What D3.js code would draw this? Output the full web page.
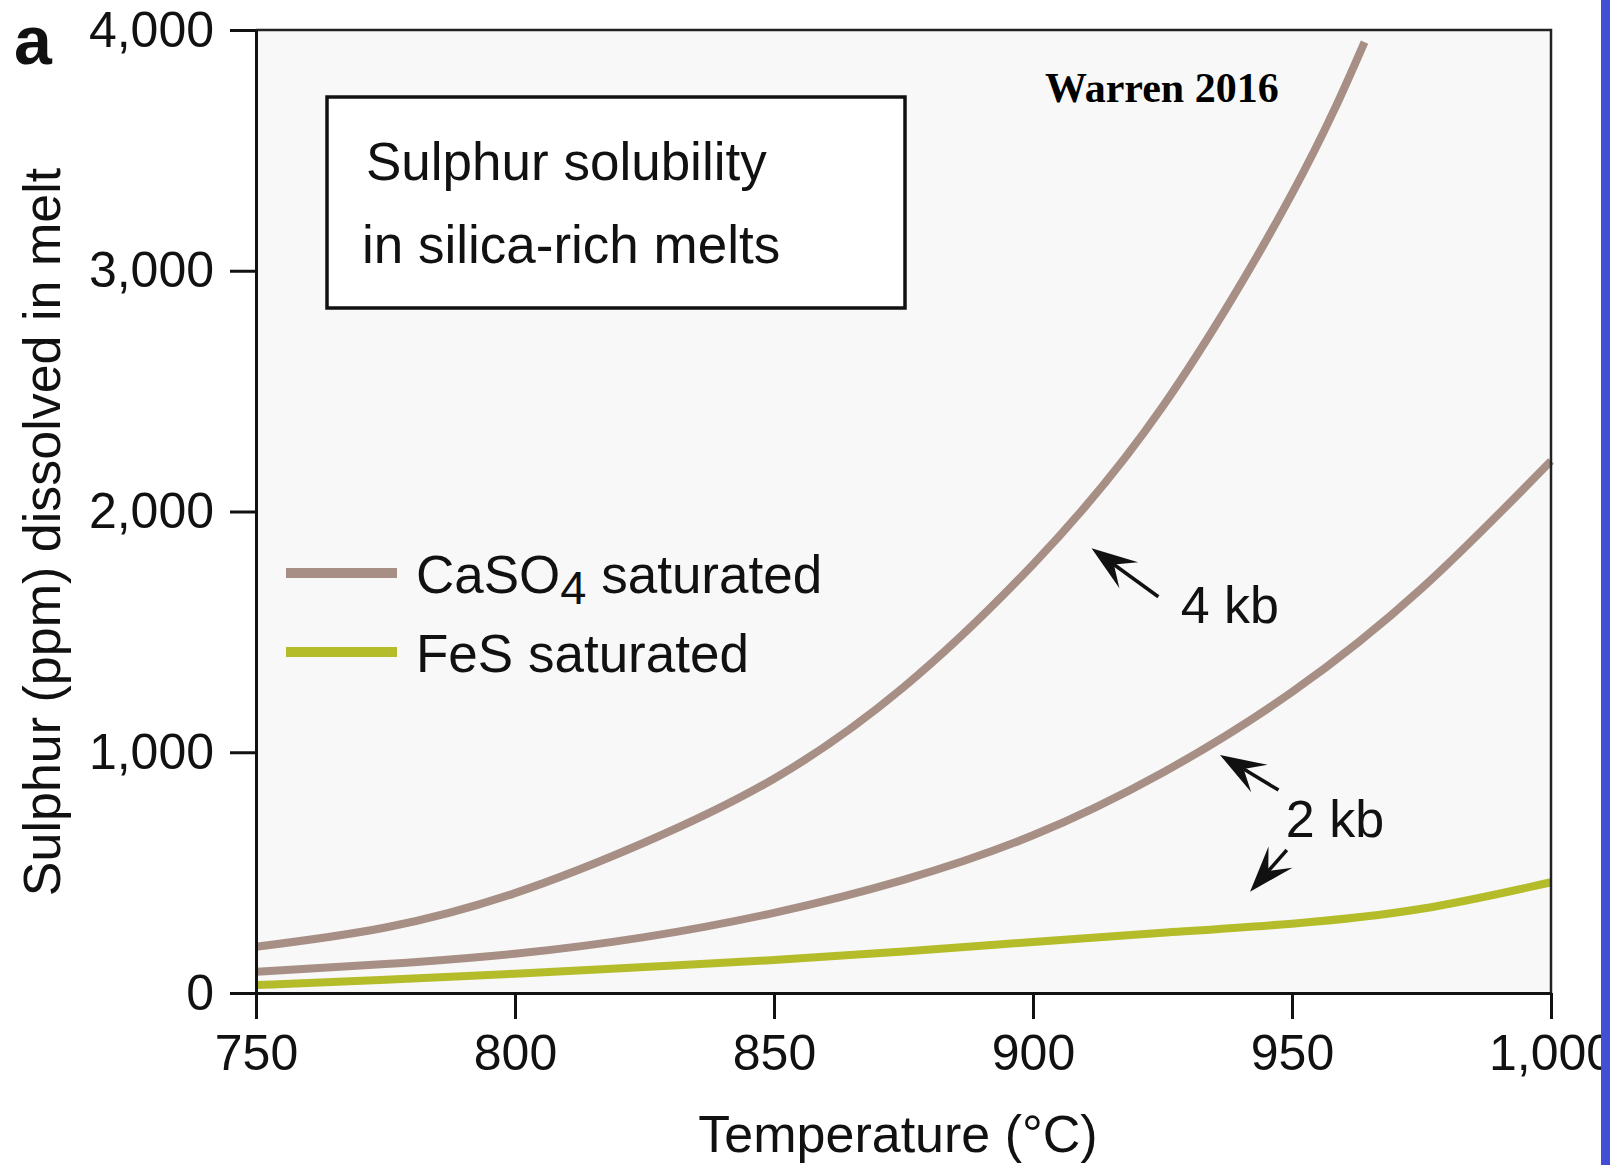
<!DOCTYPE html>
<html lang="en">
<head>
    <meta charset="UTF-8">
    <title>Sulphur solubility</title>
    <script src="https://cdn.jsdelivr.net/npm/d3@7"></script>
    <style type="text/css">
        body { margin: 0; background: #fff; }
        .axis path,
        .axis line {
            fill: none;
            stroke: #111;
            stroke-width: 3;
        }
        .axis text {
            font-family: "Liberation Sans", Arial, sans-serif;
            font-size: 50px;
            fill: #111;
        }
        .sans { font-family: "Liberation Sans", Arial, sans-serif; fill: #111; }
    </style>
</head>
<body>
<script>
// temperatures (°C) and sulphur (ppm)
const tempsHigh = [750, 775, 800, 825, 850, 875, 900, 925, 950, 964];
const caso4High = [192, 272, 415, 625, 890, 1270, 1780, 2435, 3320, 3950];   // 4 kb

const tempsLow = [750, 775, 800, 825, 850, 875, 900, 925, 950, 975, 1000];
const caso4Low = [88, 120, 163, 232, 333, 470, 655, 915, 1250, 1680, 2210];  // 2 kb
const fesSat = [33, 55, 80, 108, 137, 172, 212, 250, 288, 350, 460];

const xTicks = [750, 800, 850, 900, 950, 1000];
const yTicks = [0, 1000, 2000, 3000, 4000];

const brown = "#a88f85";
const green = "#b4bc2a";

let w = 1610, h = 1165;
let padLeft = 256, padRight = 1551, padTop = 30, padBottom = 993;

let svg = d3.select("body").append("svg")
    .attr("width", w)
    .attr("height", h);

svg.append("rect").attr("width", w).attr("height", h).attr("fill", "#fff");

let xScale = d3.scaleLinear().domain([750, 1000]).range([padLeft, padRight]);
let yScale = d3.scaleLinear().domain([0, 4000]).range([padBottom, padTop]);

// plot background
svg.append("rect")
    .attr("x", padLeft).attr("y", padTop)
    .attr("width", padRight - padLeft).attr("height", padBottom - padTop)
    .attr("fill", "#f8f8f8");

let line = d3.line()
    .x(d => xScale(d[0]))
    .y(d => yScale(d[1]))
    .curve(d3.curveNatural);

let series = [
    { t: tempsLow, v: fesSat, color: green },
    { t: tempsLow, v: caso4Low, color: brown },
    { t: tempsHigh, v: caso4High, color: brown }
];

svg.selectAll("path.curve")
    .data(series)
    .enter()
    .append("path")
    .attr("class", "curve")
    .attr("d", s => line(s.t.map((t, i) => [t, s.v[i]])))
    .attr("fill", "none")
    .attr("stroke", s => s.color)
    .attr("stroke-width", 8);

// frame top / right
svg.append("path")
    .attr("d", `M${padLeft},${padTop}H${padRight}V${padBottom}`)
    .attr("fill", "none")
    .attr("stroke", "#222")
    .attr("stroke-width", 2.5);

let xAxis = d3.axisBottom(xScale)
    .tickValues(xTicks)
    .tickSize(26)
    .tickSizeOuter(0)
    .tickPadding(15)
    .tickFormat(d3.format(","));
let yAxis = d3.axisLeft(yScale)
    .tickValues(yTicks)
    .tickSize(26)
    .tickSizeOuter(0)
    .tickPadding(16)
    .tickFormat(d3.format(","));

svg.append("g")
    .attr("class", "axis")
    .attr("transform", "translate(0," + padBottom + ")")
    .call(xAxis);

svg.append("g")
    .attr("class", "axis")
    .attr("transform", "translate(" + padLeft + ",0)")
    .call(yAxis);

// axis titles
svg.append("text")
    .attr("class", "sans")
    .attr("x", 898).attr("y", 1152)
    .attr("text-anchor", "middle")
    .attr("font-size", 52)
    .text("Temperature (°C)");

svg.append("text")
    .attr("class", "sans")
    .attr("transform", "translate(60,532) rotate(-90)")
    .attr("text-anchor", "middle")
    .attr("font-size", 52)
    .text("Sulphur (ppm) dissolved in melt");

// panel letter
svg.append("text")
    .attr("class", "sans")
    .attr("x", 14).attr("y", 64)
    .attr("font-size", 68)
    .attr("font-weight", "bold")
    .text("a");

// title box
svg.append("rect")
    .attr("x", 327).attr("y", 97)
    .attr("width", 578).attr("height", 211)
    .attr("fill", "#fff")
    .attr("stroke", "#111")
    .attr("stroke-width", 3.5);
svg.append("text").attr("class", "sans").attr("x", 366).attr("y", 180).attr("font-size", 53).text("Sulphur solubility");
svg.append("text").attr("class", "sans").attr("x", 362).attr("y", 263).attr("font-size", 53).text("in silica-rich melts");

svg.append("text")
    .attr("x", 1045).attr("y", 102)
    .style("font-family", "'Liberation Serif', 'Times New Roman', serif")
    .style("font-weight", "bold")
    .style("font-size", "42px")
    .attr("fill", "#000")
    .text("Warren 2016");

// legend
let legend = [
    { label: "CaSO", sub: "4", rest: " saturated", color: brown, y: 573 },
    { label: "FeS saturated", color: green, y: 652 }
];
legend.forEach(l => {
    svg.append("line")
        .attr("x1", 286).attr("x2", 397)
        .attr("y1", l.y).attr("y2", l.y)
        .attr("stroke", l.color)
        .attr("stroke-width", 10);
    let t = svg.append("text")
        .attr("class", "sans")
        .attr("x", 416).attr("y", l.y + 20)
        .attr("font-size", 53);
    t.append("tspan").text(l.label);
    if (l.sub) {
        t.append("tspan").attr("dy", 11).attr("font-size", 47).text(l.sub);
        t.append("tspan").attr("dy", -11).text(l.rest);
    }
});

// pressure annotations (data coordinates)
const arrows = [
    { from: [924.2, 1646], to: [911.3, 1847] },
    { from: [947.4, 843], to: [936.1, 989] },
    { from: [949.0, 594], to: [941.9, 421] }
];
const labels = [
    { text: "4 kb", t: 928.5, v: 1537 },
    { text: "2 kb", t: 948.8, v: 649 }
];

arrows.forEach(a => {
    let x0 = xScale(a.from[0]), y0 = yScale(a.from[1]);
    let x1 = xScale(a.to[0]), y1 = yScale(a.to[1]);
    let dx = x1 - x0, dy = y1 - y0;
    let len = Math.sqrt(dx * dx + dy * dy);
    let ux = dx / len, uy = dy / len;
    let nx = -uy, ny = ux;
    let L = 46, W = 16;
    let bx = x1 - L * ux, by = y1 - L * uy;
    let mx = x1 - 0.6 * L * ux, my = y1 - 0.6 * L * uy;
    svg.append("line")
        .attr("x1", x0).attr("y1", y0)
        .attr("x2", mx).attr("y2", my)
        .attr("stroke", "#111")
        .attr("stroke-width", 3.5);
    svg.append("path")
        .attr("d", `M${x1},${y1}L${bx + W * nx},${by + W * ny}L${mx},${my}L${bx - W * nx},${by - W * ny}Z`)
        .attr("fill", "#111");
});

svg.selectAll("text.note")
    .data(labels)
    .enter()
    .append("text")
    .attr("class", "note sans")
    .attr("x", d => xScale(d.t))
    .attr("y", d => yScale(d.v))
    .attr("font-size", 52)
    .text(d => d.text);

// blue strip at right edge
svg.append("rect")
    .attr("x", 1601).attr("y", 0)
    .attr("width", 9).attr("height", h)
    .attr("fill", "#434ed6");
</script>
</body>
</html>
